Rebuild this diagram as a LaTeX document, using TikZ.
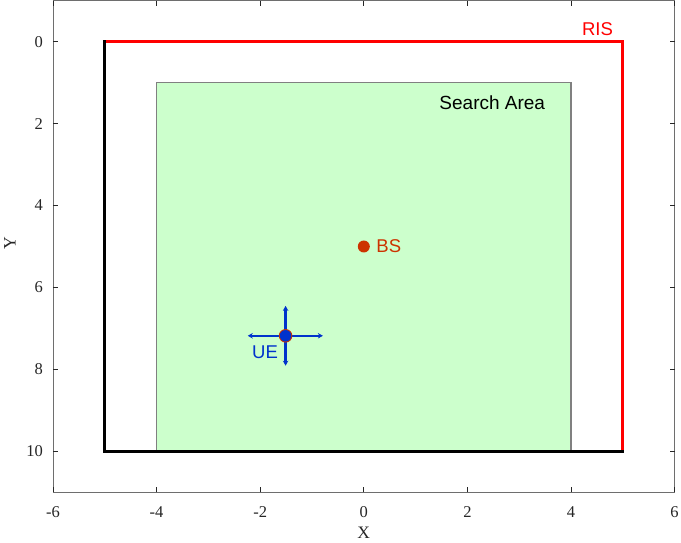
\documentclass[tikz,border=0pt]{standalone}
\usepackage{fontspec}
\setmainfont{Liberation Serif}
\setsansfont{Liberation Sans}
\usetikzlibrary{arrows.meta}
\definecolor{areagreen}{RGB}{204,255,204}
\definecolor{bscol}{RGB}{204,51,0}
\definecolor{uecol}{RGB}{0,51,204}
\definecolor{axcol}{RGB}{110,110,110}
\definecolor{tickcol}{RGB}{38,38,38}
\tikzset{
  ticklabel/.style={font=\fontsize{16.5}{18}\selectfont, text=tickcol, inner sep=0pt},
  plotlabel/.style={font=\sffamily\fontsize{18.5}{20}\selectfont, inner sep=0pt},
  axline/.style={draw=axcol, line width=0.9pt},
  tickmark/.style={draw=tickcol, line width=0.8pt},
  wall/.style={line width=3pt, line cap=rect},
  uearrow/.style={draw=uecol, line width=2.4pt, -{Stealth[length=5pt,width=5.5pt]}}
}
\begin{document}
\begin{tikzpicture}[x=1pt,y=1pt]
\useasboundingbox (0,0) rectangle (681,543);
\begin{scope}[shift={(363.8pt,501.3pt)},x=51.8pt,y=-40.96pt]
  % search area
  \path[fill=areagreen, draw=gray, line width=1.2pt] (-4,1) rectangle (4,10);
  \node[plotlabel, font=\sffamily\fontsize{19}{21}\selectfont] (sa) at (2.48,1.48) {Search Area};
  % RIS (red) and walls (black)
  \draw[wall, red] (-5,0) -- (5,0) -- (5,10);
  \draw[wall, black] (-5,0) -- (-5,10) -- (5,10);
  \node[plotlabel, text=red] (ris) at (4.51,-0.31) {RIS};
  % BS
  \node[circle, fill=bscol, minimum size=12pt, inner sep=0pt] (bs) at (0,5) {};
  \node[plotlabel, text=bscol, anchor=west] (bslab) at (0.24,5) {BS};
  % UE
  \coordinate (uec) at (-1.51,7.18);
  \coordinate (uer) at (-0.79,7.18);
  \coordinate (uel) at (-2.24,7.18);
  \coordinate (ueu) at (-1.51,6.45);
  \coordinate (ued) at (-1.51,7.91);
  \draw[uearrow] (uec) -- (uer);
  \draw[uearrow] (uec) -- (uel);
  \draw[uearrow] (uec) -- (ueu);
  \draw[uearrow] (uec) -- (ued);
  \node[circle, fill=bscol, minimum size=13.5pt, inner sep=0pt] (uered) at (uec) {};
  \node[circle, fill=uecol, minimum size=11.5pt, inner sep=0pt] (ue) at (uec) {};
  \node[plotlabel, text=uecol] (uelab) at (-1.907,7.59) {UE};
  % axes box
  \draw[axline] (-6,-1) rectangle (6,11);
  % ticks and labels
  \foreach \v [count=\k] in {-6,-4,-2,0,2,4,6} {
    \draw[tickmark] (\v,11) -- ++(0,-0.122);
    \draw[tickmark] (\v,-1) -- ++(0,0.122);
    \node[ticklabel] (xt\k) at (\v,11.48) {\v};
  }
  \foreach \v [count=\k] in {0,2,4,6,8,10} {
    \draw[tickmark] (-6,\v) -- ++(0.0965,0);
    \draw[tickmark] (6,\v) -- ++(-0.0965,0);
    \node[ticklabel, anchor=east] (yt\k) at (-6.19,\v) {\v};
  }
  \node[ticklabel, font=\fontsize{17.5}{19}\selectfont] (xl) at (0,11.99) {X};
  \node[ticklabel, font=\fontsize{17.5}{19}\selectfont, rotate=90] (yl) at (-6.83,4.91) {Y};
\end{scope}
\end{tikzpicture}
\end{document}
